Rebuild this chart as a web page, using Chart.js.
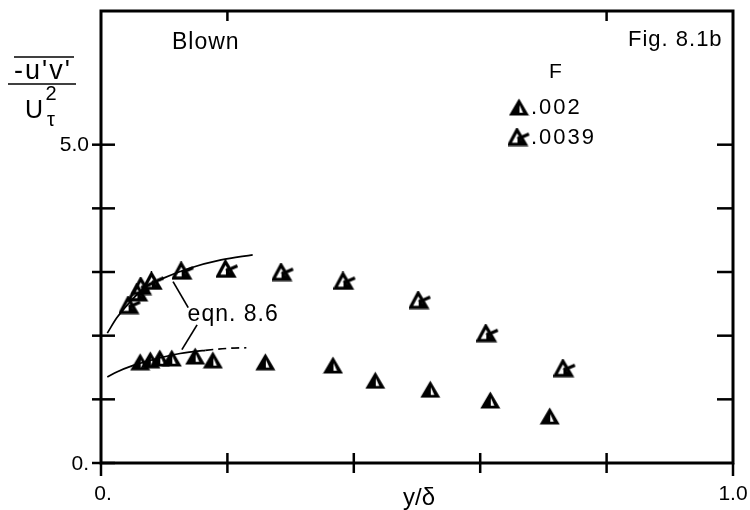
<!DOCTYPE html>
<html>
<head>
<meta charset="utf-8">
<script src="https://cdn.jsdelivr.net/npm/chart.js@4/dist/chart.umd.min.js"></script>
<style>
  html, body { margin: 0; padding: 0; background: #fff; }
  canvas { display: block; }
</style>
</head>
<body>
<canvas id="chart" width="750" height="510"></canvas>
<script>
// y / delta positions and -u'v'/U_tau^2 values
const blowX002 = [0.062, 0.078, 0.093, 0.112, 0.149, 0.177, 0.26, 0.367, 0.434, 0.521, 0.616, 0.71];
const blowY002 = [1.59, 1.62, 1.65, 1.65, 1.68, 1.62, 1.59, 1.54, 1.30, 1.16, 0.99, 0.74];

const blowX0039 = [0.046, 0.060, 0.066, 0.083, 0.130, 0.200, 0.288, 0.386, 0.505, 0.612, 0.734];
const blowY0039 = [2.48, 2.68, 2.78, 2.86, 3.02, 3.05, 3.00, 2.86, 2.56, 2.04, 1.49];

// eqn. 8.6 curves
const eqnUpperX = [0.01, 0.025, 0.045, 0.07, 0.098, 0.14, 0.19, 0.24];
const eqnUpperY = [2.04, 2.28, 2.52, 2.76, 2.90, 3.06, 3.19, 3.27];
const eqnLowerX = [0.01, 0.025, 0.05, 0.085, 0.125, 0.165, 0.20, 0.23];
const eqnLowerY = [1.35, 1.43, 1.53, 1.63, 1.72, 1.77, 1.80, 1.81];

// leader lines from the "eqn. 8.6" label
const leaderUpperX = [0.114, 0.138];
const leaderUpperY = [2.85, 2.44];
const leaderLowerX = [0.152, 0.128];
const leaderLowerY = [2.17, 1.78];

const xTicks = [0, 0.2, 0.4, 0.6, 0.8, 1.0];
const xTopTicks = [0.2, 0.8];
const xTickLabels = {0: '0.', 1: '1.0'};
const yTicks = [0, 1, 2, 3, 4, 5];
const yTickLabels = {0: '0.', 5: '5.0'};
const legendLabels = ['.002', '.0039'];

const pts = (xs, ys) => xs.map((x, i) => ({x: x, y: ys[i]}));
const FONT = '"Liberation Sans", Arial, sans-serif';

// marker for F = .002 : solid triangle with a white sliver
function solidTri() {
    const c = document.createElement('canvas');
    c.width = 21; c.height = 18;
    const g = c.getContext('2d');
    g.fillStyle = '#000';
    g.beginPath();
    g.moveTo(10.5, 0.5); g.lineTo(20.5, 17.5); g.lineTo(0.5, 17.5); g.closePath();
    g.fill();
    g.fillStyle = '#fff';
    g.beginPath();
    g.moveTo(11, 7); g.lineTo(14.5, 14.8); g.lineTo(11, 14.8); g.closePath();
    g.fill();
    return c;
}

// marker for F = .0039 : open triangle with a "k" arm
function openTri() {
    const c = document.createElement('canvas');
    c.width = 23; c.height = 19;
    const g = c.getContext('2d');
    g.strokeStyle = '#000';
    g.fillStyle = '#000';
    g.lineWidth = 3.3;
    g.lineJoin = 'miter';
    g.beginPath();
    g.moveTo(9.5, 2.5); g.lineTo(18, 16.8); g.lineTo(1.8, 16.8); g.closePath();
    g.stroke();
    g.beginPath();
    g.moveTo(10, 8.5); g.lineTo(18, 16.8); g.lineTo(10, 16.8); g.closePath();
    g.fill();
    g.lineWidth = 3;
    g.beginPath();
    g.moveTo(10, 11.5); g.lineTo(21.5, 6.5);
    g.stroke();
    return c;
}

const markA = solidTri();
const markB = openTri();

function line(ctx, x1, y1, x2, y2) {
    ctx.beginPath();
    ctx.moveTo(x1, y1);
    ctx.lineTo(x2, y2);
    ctx.stroke();
}

const frame = {
    id: 'frame',
    afterDraw(chart) {
        const ctx = chart.ctx;
        const xs = chart.scales.x, ys = chart.scales.y;
        const a = chart.chartArea;
        ctx.save();
        ctx.strokeStyle = '#000';
        ctx.fillStyle = '#000';
        ctx.lineCap = 'square';

        // box
        ctx.lineWidth = 3;
        ctx.strokeRect(a.left, a.top, a.right - a.left, a.bottom - a.top);

        // ticks
        ctx.lineWidth = 2.5;
        ctx.lineCap = 'butt';
        xTicks.forEach(v => {
            const px = xs.getPixelForValue(v);
            if (v === 0 || v === 1) line(ctx, px, a.bottom, px, a.bottom + 13);
            else line(ctx, px, a.bottom - 10, px, a.bottom + 10);
        });
        xTopTicks.forEach(v => {
            const px = xs.getPixelForValue(v);
            line(ctx, px, a.top, px, a.top + 10);
        });
        yTicks.forEach(v => {
            const py = ys.getPixelForValue(v);
            line(ctx, a.left - 9, py, a.left + 14, py);
            if (v !== 0) line(ctx, a.right - 16, py, a.right, py);
        });

        // tick labels
        ctx.font = '21px ' + FONT;
        ctx.textBaseline = 'middle';
        ctx.textAlign = 'right';
        Object.keys(yTickLabels).forEach(k => {
            ctx.fillText(yTickLabels[k], a.left - 12, ys.getPixelForValue(Number(k)) + 1);
        });
        ctx.textAlign = 'center';
        Object.keys(xTickLabels).forEach(k => {
            const px = xs.getPixelForValue(Number(k));
            ctx.fillText(xTickLabels[k], px + (Number(k) === 0 ? 2 : 0), a.bottom + 31);
        });

        // x title
        ctx.font = '24px ' + FONT;
        ctx.fillText('y/δ', 419, a.bottom + 35);

        // y title: -u'v' over U_tau^2
        ctx.font = '27px ' + FONT;
        ctx.letterSpacing = '2px';
        ctx.fillText("-u'v'", 43, 72);
        ctx.letterSpacing = '0px';
        ctx.lineWidth = 1.6;
        line(ctx, 14, 57, 74, 57);
        line(ctx, 8, 84, 76, 84);
        ctx.font = '25px ' + FONT;
        ctx.fillText('U', 34, 111);
        ctx.font = '20px ' + FONT;
        ctx.fillText('2', 51, 94);
        ctx.fillText('τ', 51, 120);

        // annotations
        ctx.textAlign = 'left';
        ctx.font = '23px ' + FONT;
        ctx.letterSpacing = '1px';
        ctx.fillText('Blown', 172, 43);
        ctx.font = '22px ' + FONT;
        ctx.fillText('Fig. 8.1b', 628, 40);
        ctx.font = '23px ' + FONT;
        ctx.fillText('eqn. 8.6', xs.getPixelForValue(0.137), ys.getPixelForValue(2.33));

        // legend
        ctx.textAlign = 'center';
        ctx.font = '21px ' + FONT;
        ctx.fillText('F', 556, 72);
        ctx.textAlign = 'left';
        ctx.font = '22px ' + FONT;
        ctx.letterSpacing = '2px';
        [markA, markB].forEach((m, i) => {
            const cy = 107 + i * 30;
            ctx.drawImage(m, 519 - m.width / 2, cy - m.height / 2);
            ctx.fillText(legendLabels[i], 531, cy + 1);
        });

        ctx.restore();
    }
};

const curve = {
    showLine: true,
    borderColor: '#000',
    borderWidth: 1.7,
    pointRadius: 0,
    cubicInterpolationMode: 'monotone',
    fill: false
};

new Chart(document.getElementById('chart'), {
    type: 'scatter',
    data: {
        datasets: [
            Object.assign({label: 'eqn upper', data: pts(eqnUpperX, eqnUpperY)}, curve),
            Object.assign({
                label: 'eqn lower',
                data: pts(eqnLowerX, eqnLowerY),
                segment: {borderDash: c => c.p0DataIndex >= eqnLowerX.length - 3 ? [8, 5] : undefined}
            }, curve),
            Object.assign({label: 'leader1', data: pts(leaderUpperX, leaderUpperY)}, curve, {cubicInterpolationMode: 'default', tension: 0}),
            Object.assign({label: 'leader2', data: pts(leaderLowerX, leaderLowerY)}, curve, {cubicInterpolationMode: 'default', tension: 0}),
            {
                label: '.002',
                data: pts(blowX002, blowY002),
                pointStyle: markA,
                pointRadius: 9
            },
            {
                label: '.0039',
                data: pts(blowX0039, blowY0039),
                pointStyle: markB,
                pointRadius: 9
            }
        ]
    },
    options: {
        responsive: false,
        animation: false,
        layout: {padding: {left: 101, right: 17, top: 11, bottom: 47}},
        scales: {
            x: {type: 'linear', min: 0, max: 1, display: false},
            y: {type: 'linear', min: 0, max: 7.1, display: false}
        },
        plugins: {
            legend: {display: false},
            tooltip: {enabled: false}
        }
    },
    plugins: [frame]
});
</script>
</body>
</html>
